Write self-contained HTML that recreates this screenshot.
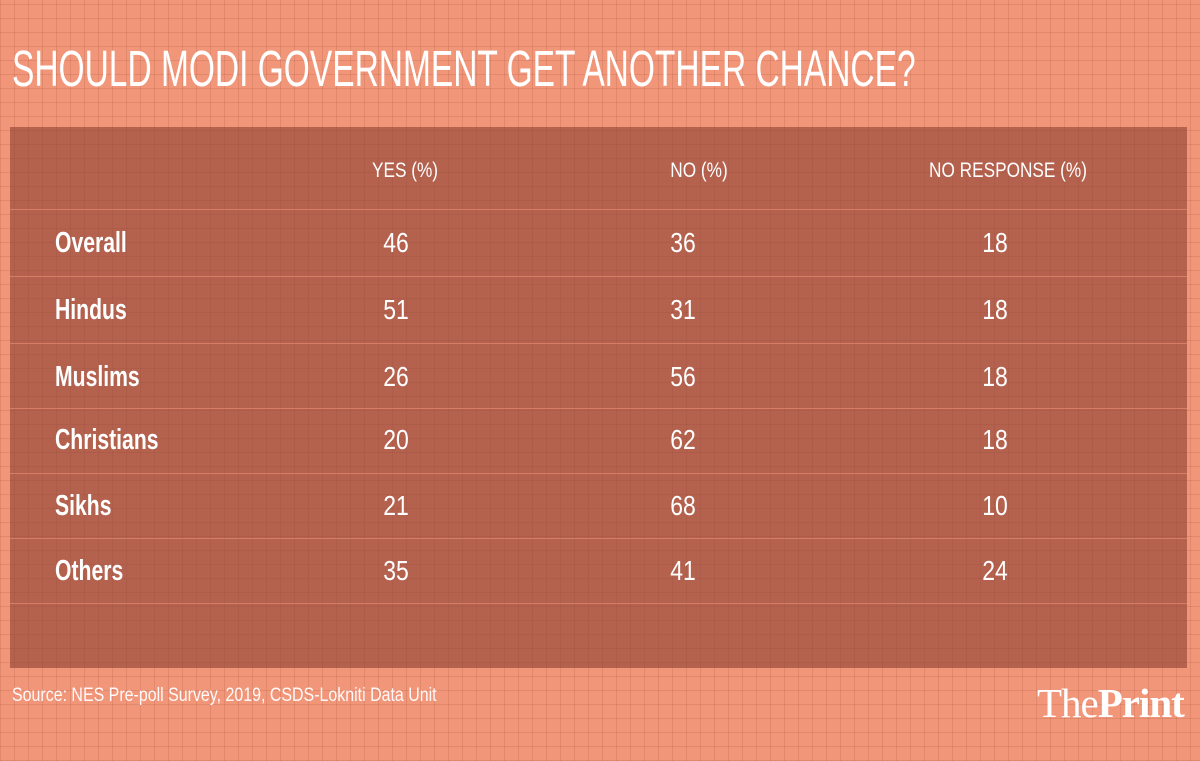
<!DOCTYPE html>
<html><head><meta charset="utf-8"><style>
body{margin:0;width:1200px;height:761px;overflow:hidden;font-family:"Liberation Sans",sans-serif;}
#bg{position:absolute;left:0;top:0;width:1200px;height:761px;background-color:#f29679;
background-image:repeating-linear-gradient(0deg,rgba(150,70,50,.18) 0 1px,transparent 1px 14px),repeating-linear-gradient(90deg,rgba(150,70,50,.18) 0 1px,transparent 1px 14px);}
.t{position:absolute;color:#fff;white-space:nowrap;transform-origin:0 50%;}
#panel{position:absolute;left:10px;top:127px;width:1177px;height:541px;background:rgba(150,72,58,.68);}
.line{position:absolute;left:10px;width:1177px;height:1px;background:rgba(240,150,120,.55);}
</style></head><body>
<div id="bg"></div>
<div class="t" style="left:12px;top:44px;font-size:51px;line-height:50px;transform:scaleX(0.657);">SHOULD MODI GOVERNMENT GET ANOTHER CHANCE?</div>
<div id="panel"></div>
<div id="tbl"></div>
<div class="t" style="left:12px;top:686px;font-size:19px;line-height:20px;transform:scaleX(0.84);opacity:.95">Source: NES Pre-poll Survey, 2019, CSDS-Lokniti Data Unit</div>
<div class="t" style="left:1037px;top:683px;font-family:'Liberation Serif',serif;font-size:41px;line-height:40px;letter-spacing:-1px">The<b>Print</b></div>
<script>
const headers=["YES (%)","NO (%)","NO RESPONSE (%)"];
const groups=["Overall","Hindus","Muslims","Christians","Sikhs","Others"];
const yes=[46,51,26,20,21,35];
const no=[36,31,56,62,68,41];
const noResp=[18,18,18,18,10,24];
const tbl=document.getElementById('tbl');
const hx=[405,699,1008], vx=[396,683,995];
function txt(s,x,y,size,bold,center,name){
  const d=document.createElement('div');d.className='t';d.textContent=s;
  
  
  d.style.fontSize=size+'px';d.style.lineHeight=size+'px';d.style.top=(y-size/2)+'px';
  if(bold)d.style.fontWeight='bold';
  d.style.transformOrigin=center?'50% 50%':'0 50%';
  if(center){d.style.left=(x-150)+'px';d.style.width='300px';d.style.textAlign='center';d.style.transform='scaleX(0.82)';}
  else{d.style.left=x+'px';d.style.transform='scaleX(0.73)';}
  tbl.appendChild(d);
}
headers.forEach((h,i)=>txt(h,hx[i],170,21,false,true,'column-header'));
const ys=[243,310,377,440,506,571], ls=[209,276,343,408,473,538,603];
ls.forEach(y=>{const l=document.createElement('div');l.className='line';l.style.top=y+'px';


tbl.appendChild(l);});
groups.forEach((g,i)=>{
  txt(g,55,ys[i],29,true,false,'row-label');
  txt(String(yes[i]),vx[0],ys[i],28,false,true,'yes-value');
  txt(String(no[i]),vx[1],ys[i],28,false,true,'no-value');
  txt(String(noResp[i]),vx[2],ys[i],28,false,true,'no-response-value');
});
</script>
</body></html>
